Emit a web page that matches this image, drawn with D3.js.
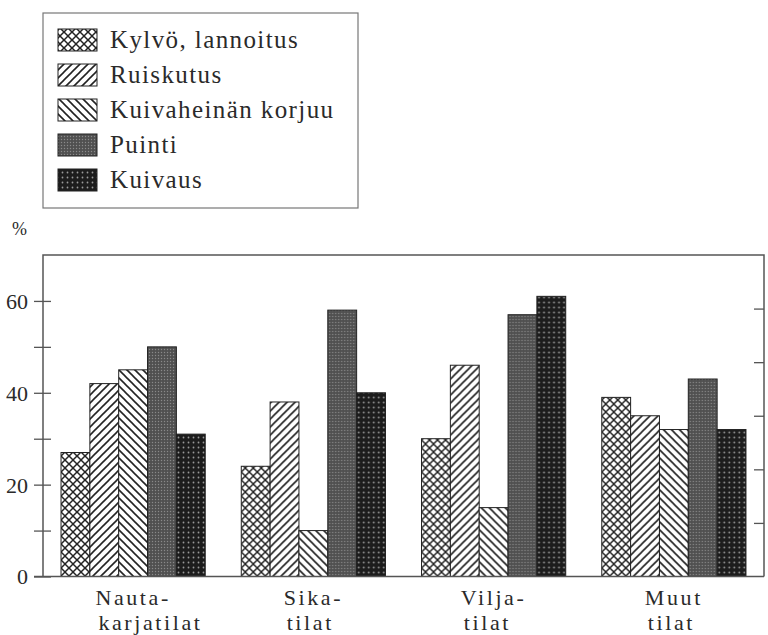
<!DOCTYPE html>
<html>
<head>
<meta charset="utf-8">
<script src="https://cdn.jsdelivr.net/npm/d3@7/dist/d3.min.js"></script>
<style>
  html, body { margin: 0; padding: 0; background: #fff; }
  svg { display: block; }
  text { font-family: "Liberation Serif", serif; fill: #2a2a2a; }
</style>
</head>
<body>
<svg id="chart" width="768" height="635"></svg>
<script>
// ---- data ----
const categories = [["Nauta-", "karjatilat"], ["Sika-", "tilat"], ["Vilja-", "tilat"], ["Muut", "tilat"]];
const seriesNames = ["Kylvö, lannoitus", "Ruiskutus", "Kuivaheinän korjuu", "Puinti", "Kuivaus"];
const kylvo      = [27, 24, 30, 39];
const ruiskutus  = [42, 38, 46, 35];
const kuivaheina = [45, 10, 15, 32];
const puinti     = [50, 58, 57, 43];
const kuivaus    = [31, 40, 61, 32];
const seriesValues = [kylvo, ruiskutus, kuivaheina, puinti, kuivaus];
const yTickValues = [0, 10, 20, 30, 40, 50, 60];
const yTickLabels = [0, 20, 40, 60];
const rightTickValues = [1, 2, 3, 4, 5];
const yUnit = "%";

// ---- setup ----
const svg = d3.select("#chart");
const defs = svg.append("defs");
const ink = "#222";
const serif = "Liberation Serif";

// patterns
function stripes(id, dir) {
  const p = defs.append("pattern").attr("id", id).attr("patternUnits", "userSpaceOnUse")
    .attr("width", 8).attr("height", 8);
  p.append("rect").attr("width", 8).attr("height", 8).attr("fill", "#fff");
  const segs = dir === "up"
    ? [[0, 8, 8, 0], [-2, 2, 2, -2], [6, 10, 10, 6]]
    : [[0, 0, 8, 8], [-2, 6, 2, 10], [6, -2, 10, 2]];
  segs.forEach(s => p.append("line").attr("x1", s[0]).attr("y1", s[1]).attr("x2", s[2]).attr("y2", s[3])
    .attr("stroke", ink).attr("stroke-width", 1.6));
}
function cross(id) {
  const p = defs.append("pattern").attr("id", id).attr("patternUnits", "userSpaceOnUse")
    .attr("width", 8).attr("height", 8);
  p.append("rect").attr("width", 8).attr("height", 8).attr("fill", "#fff");
  [[0, 8, 8, 0], [-2, 2, 2, -2], [6, 10, 10, 6], [0, 0, 8, 8], [-2, 6, 2, 10], [6, -2, 10, 2]]
    .forEach(s => p.append("line").attr("x1", s[0]).attr("y1", s[1]).attr("x2", s[2]).attr("y2", s[3])
      .attr("stroke", ink).attr("stroke-width", 1.5));
}
function dots(id, base, dot, size, r) {
  const p = defs.append("pattern").attr("id", id).attr("patternUnits", "userSpaceOnUse")
    .attr("width", size).attr("height", size);
  p.append("rect").attr("width", size).attr("height", size).attr("fill", base);
  p.append("circle").attr("cx", size / 2).attr("cy", size / 2).attr("r", r).attr("fill", dot);
}
cross("p0");
stripes("p1", "up");
stripes("p2", "down");
dots("p3", "#505050", "#8a8a8a", 3, 0.7);
dots("p4", "#1c1c1c", "#9a9a9a", 5, 0.9);
const fills = ["url(#p0)", "url(#p1)", "url(#p2)", "url(#p3)", "url(#p4)"];

// scales
const plotLeft = 43, plotRight = 764, plotTop = 255, plotBottom = 576.5;
const x0 = d3.scaleBand().domain(d3.range(categories.length)).range([plotLeft, plotRight])
  .paddingInner(0.2).paddingOuter(0.1);
const x1 = d3.scaleBand().domain(d3.range(seriesNames.length)).range([0, x0.bandwidth()]);
const y = d3.scaleLinear().domain([0, 70]).range([plotBottom, plotTop]);
const yR = d3.scaleLinear().domain([0, 6]).range([plotBottom, plotTop]);

// frame
const frameColor = "#555";
svg.append("path")
  .attr("d", `M${plotLeft},${plotBottom}V${plotTop}H${plotRight}V${plotBottom}`)
  .attr("fill", "none").attr("stroke", frameColor).attr("stroke-width", 1.5);

// left axis (ticks crossing the frame)
const leftAxis = svg.append("g").attr("transform", `translate(${plotLeft + 8},0)`)
  .call(d3.axisLeft(y).tickValues(yTickValues).tickSize(17).tickPadding(6)
    .tickFormat(d => yTickLabels.includes(d) ? d : ""));
leftAxis.select(".domain").remove();
leftAxis.selectAll(".tick line").attr("stroke", frameColor).attr("stroke-width", 1.3);
leftAxis.selectAll(".tick text").attr("font-family", serif).attr("font-size", 22)
  .attr("fill", "#333").attr("dy", "0.34em");

// right axis ticks
const rightAxis = svg.append("g").attr("transform", `translate(${plotRight},0)`)
  .call(d3.axisLeft(yR).tickValues(rightTickValues).tickSize(10).tickFormat(""));
rightAxis.select(".domain").remove();
rightAxis.selectAll(".tick line").attr("stroke", frameColor).attr("stroke-width", 1.3);

// bars
const groups = svg.append("g").selectAll("g").data(categories).join("g")
  .attr("transform", (d, i) => `translate(${x0(i)},0)`);
groups.selectAll("rect")
  .data((d, i) => seriesValues.map((vals, s) => ({ s, v: vals[i] })))
  .join("rect")
  .attr("x", d => x1(d.s))
  .attr("y", d => y(d.v))
  .attr("width", x1.bandwidth())
  .attr("height", d => y(0) - y(d.v))
  .attr("fill", d => fills[d.s])
  .attr("stroke", ink).attr("stroke-width", 1);

// baseline
svg.append("line").attr("x1", 34).attr("x2", plotRight).attr("y1", plotBottom).attr("y2", plotBottom)
  .attr("stroke", frameColor).attr("stroke-width", 1.5);

// category labels
categories.forEach((c, i) => {
  const cx = x0(i) + x0.bandwidth() / 2;
  const t1 = svg.append("text").attr("x", cx).attr("y", 605).attr("text-anchor", "middle")
    .attr("font-size", 22).attr("letter-spacing", 2.6).text(c[0]);
  const w = t1.node().getComputedTextLength();
  svg.append("text").attr("x", cx - w / 2 + 3).attr("y", 630).attr("font-size", 22)
    .attr("letter-spacing", 2.6).text(c[1]);
});

// unit label
svg.append("text").attr("x", 12).attr("y", 235).attr("font-size", 18).attr("fill", "#555").text(yUnit);

// legend
const lg = svg.append("g");
lg.append("rect").attr("x", 43).attr("y", 13).attr("width", 315).attr("height", 195)
  .attr("fill", "#fff").attr("stroke", "#777").attr("stroke-width", 1.2);
seriesNames.forEach((name, i) => {
  const yy = 29 + i * 35;
  lg.append("rect").attr("x", 58).attr("y", yy).attr("width", 39).attr("height", 22)
    .attr("fill", fills[i]).attr("stroke", ink).attr("stroke-width", 1);
  lg.append("text").attr("x", 110).attr("y", yy + 19).attr("font-size", 25)
    .attr("letter-spacing", 1.4).text(name);
});
</script>
</body>
</html>
